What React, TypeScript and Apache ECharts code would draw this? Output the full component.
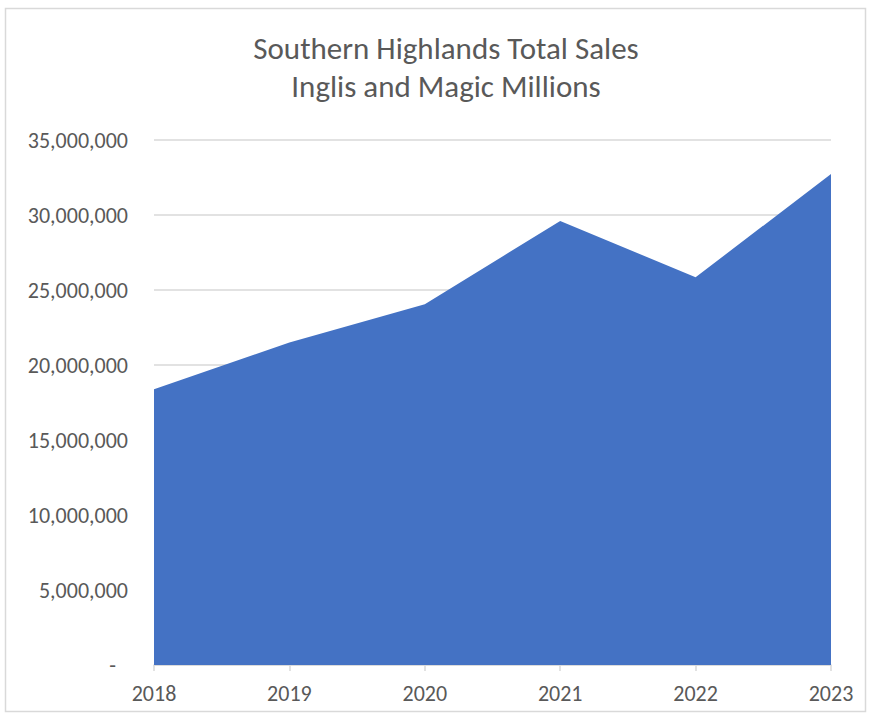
import React, { useEffect, useRef } from "react";
import * as echarts from "echarts";

const years = ["2018", "2019", "2020", "2021", "2022", "2023"];
const totalSales = [18380000, 21500000, 24050000, 29600000, 25850000, 32730000];
const yTicks = { min: 0, max: 35000000, interval: 5000000 };
const titleLines = ["Southern Highlands Total Sales", "Inglis and Magic Millions"];

const FONT = "Carlito, Calibri, Lato, sans-serif";
const GREY = "#595959";

export default function App() {
  const ref = useRef<HTMLDivElement>(null);
  useEffect(() => {
    if (!ref.current) return;
    const chart = echarts.init(ref.current, undefined, { renderer: "svg" });
    const titleStyle = {
      fontFamily: FONT,
      fontSize: 31,
      lineHeight: 31,
      fontWeight: "normal",
      color: GREY,
    };
    chart.setOption({
      animation: false,
      backgroundColor: "#ffffff",
      title: titleLines.map((t, i) => ({
        text: t,
        left: 446,
        top: 32 + i * 38,
        padding: 0,
        textAlign: "center",
        textStyle: titleStyle,
      })),
      graphic: [
        {
          type: "rect",
          shape: { x: 5.5, y: 8.5, width: 860, height: 703 },
          style: { fill: "none", stroke: "#d9d9d9", lineWidth: 1.5 },
          silent: true,
        },
      ],
      grid: { left: 154, right: 38, top: 140, bottom: 51, containLabel: false },
      xAxis: {
        type: "category",
        data: years,
        boundaryGap: false,
        axisLine: { show: true, lineStyle: { color: "#d9d9d9", width: 1.5 } },
        axisTick: { show: true, length: 6, lineStyle: { color: "#d9d9d9", width: 1.5 } },
        axisLabel: { color: GREY, fontFamily: FONT, fontSize: 22, margin: 17 },
        splitLine: { show: false },
      },
      yAxis: {
        type: "value",
        min: yTicks.min,
        max: yTicks.max,
        interval: yTicks.interval,
        axisLine: { show: false },
        axisTick: { show: false },
        axisLabel: {
          color: GREY,
          fontFamily: FONT,
          fontSize: 22,
          margin: 26,
          formatter: (v: number) =>
            v === 0 ? "{d|-}" : v.toLocaleString("en-US"),
          rich: {
            d: { color: GREY, fontFamily: FONT, fontSize: 22, padding: [0, 12, 0, 0] },
          },
        },
        splitLine: { show: true, lineStyle: { color: "#d9d9d9", width: 1.5 } },
      },
      series: [
        {
          type: "line",
          data: totalSales,
          symbol: "none",
          lineStyle: { width: 0 },
          areaStyle: { color: "#4472C4", opacity: 1 },
          itemStyle: { color: "#4472C4" },
          z: 3,
        },
      ],
    });
    return () => chart.dispose();
  }, []);
  return (
    <div
      ref={ref}
      style={{ position: "fixed", left: 0, top: 0, width: 869, height: 716 }}
    />
  );
}
